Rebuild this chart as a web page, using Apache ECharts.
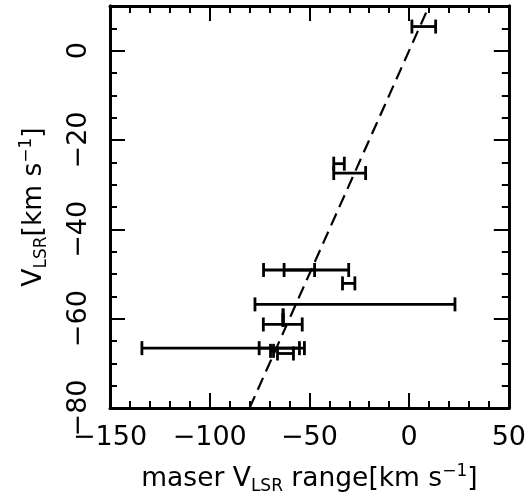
<!DOCTYPE html>
<html>
<head>
<meta charset="utf-8">
<script src="https://cdn.jsdelivr.net/npm/echarts@6/dist/echarts.min.js"></script>
<style>
html,body{margin:0;padding:0;background:#fff;}
#chart{width:529px;height:504px;}
</style>
</head>
<body>
<div id="chart"></div>
<script>
// Error bars: low end, high end, V_LSR
const barLow  = [1.4, -37.8, -37.8, -73.0, -62.7, -33.4, -77.3, -73.1, -63.2, -63.2, -134.0, -75.2, -69.5, -66.0];
const barHigh = [13.3, -32.5, -21.8, -30.3, -47.4, -27.2, 23.0, -53.6, -63.2, -63.2, -52.5, -55.0, -68.0, -58.0];
const barY    = [5.4, -25.3, -27.4, -49.1, -49.1, -52.1, -56.8, -61.3, -59.3, -60.3, -66.6, -66.6, -67.2, -67.8];
// Dashed reference line (V_LSR = maser velocity)
const lineX = [-80, 10];
const lineY = [-80, 10];
// Axis ranges / ticks
const xMin = -150, xMax = 50, xStep = 50;
const yMin = -80, yMax = 10, yStep = 20, yMinorStep = 5;

const FONT = 'DejaVu Sans';
const minus = v => String(v).replace('-', '\u2212');

const errData = barLow.map((lo, i) => [lo, barHigh[i], barY[i]]);
const lineData = lineX.map((x, i) => [x, lineY[i]]);

const chart = echarts.init(document.getElementById('chart'), null, {renderer: 'canvas'});

const richName = {
  n: {fontSize: 26.5, fontFamily: FONT, color: '#000'},
  s: {fontSize: 17, fontFamily: FONT, color: '#000', padding: [15, 0, 0, 0]},
  p: {fontSize: 17, fontFamily: FONT, color: '#000', padding: [0, 0, 15, 0]}
};

function xAx(pos, showLabel) {
  return {
    type: 'value', position: pos, min: xMin, max: xMax, interval: xStep,
    axisLine: {show: true, onZero: false, lineStyle: {color: '#000', width: 3}},
    axisTick: {show: true, inside: true, length: 15, lineStyle: {color: '#000', width: 2}},
    minorTick: {show: true, splitNumber: 5, length: 7, lineStyle: {color: '#000', width: 2}},
    splitLine: {show: false}, minorSplitLine: {show: false},
    axisLabel: showLabel ? {
      show: true, margin: 16, color: '#000', fontSize: 27, fontFamily: FONT,
      formatter: v => minus(v)
    } : {show: false},
    name: showLabel ? '{n|maser V}{s|LSR}{n| range[km s}{p|\u22121}{n|]}' : '',
    nameLocation: 'middle', nameGap: 55,
    nameTextStyle: {color: '#000', fontFamily: FONT, rich: richName}
  };
}
function yAx(pos, interval, tickLen, showLabel) {
  return {
    type: 'value', position: pos, min: yMin, max: yMax, interval: interval,
    axisLine: {show: true, onZero: false, lineStyle: {color: '#000', width: 3}},
    axisTick: {show: true, inside: true, length: tickLen, lineStyle: {color: '#000', width: 2}},
    splitLine: {show: false},
    axisLabel: showLabel ? {
      show: true, margin: 18, color: '#000', fontSize: 27, fontFamily: FONT, rotate: 90,
      formatter: v => (v % yStep === 0 ? minus(v) : '')
    } : {show: false},
    name: showLabel ? '{n|V}{s|LSR}{n|[km s}{p|\u22121}{n|]}' : '',
    nameLocation: 'middle', nameGap: 60, nameRotate: 90,
    nameTextStyle: {color: '#000', fontFamily: FONT, rich: richName}
  };
}

chart.setOption({
  animation: false,
  backgroundColor: '#fff',
  grid: {left: 110, right: 16, top: 6, bottom: 96, containLabel: false},
  xAxis: [xAx('bottom', true), xAx('top', false)],
  yAxis: [
    yAx('left', yStep, 15, true),
    yAx('left', yMinorStep, 7, false),
    yAx('right', yStep, 15, false),
    yAx('right', yMinorStep, 7, false)
  ],
  series: [
    {
      type: 'line', xAxisIndex: 0, yAxisIndex: 0, data: lineData,
      symbol: 'none', clip: true,
      lineStyle: {color: '#000', width: 2.2, type: [13, 7]}
    },
    {
      type: 'custom', xAxisIndex: 0, yAxisIndex: 0, data: errData,
      encode: {x: [0, 1], y: 2},
      clip: true,
      renderItem: function (params, api) {
        const y = api.value(2);
        const p1 = api.coord([api.value(0), y]);
        const p2 = api.coord([api.value(1), y]);
        const h = 7;
        const st = {stroke: '#000', lineWidth: 2.8};
        return {
          type: 'group',
          children: [
            {type: 'line', shape: {x1: p1[0], y1: p1[1], x2: p2[0], y2: p2[1]}, style: st},
            {type: 'line', shape: {x1: p1[0], y1: p1[1] - h, x2: p1[0], y2: p1[1] + h}, style: st},
            {type: 'line', shape: {x1: p2[0], y1: p2[1] - h, x2: p2[0], y2: p2[1] + h}, style: st}
          ]
        };
      }
    }
  ]
});
</script>
</body>
</html>
